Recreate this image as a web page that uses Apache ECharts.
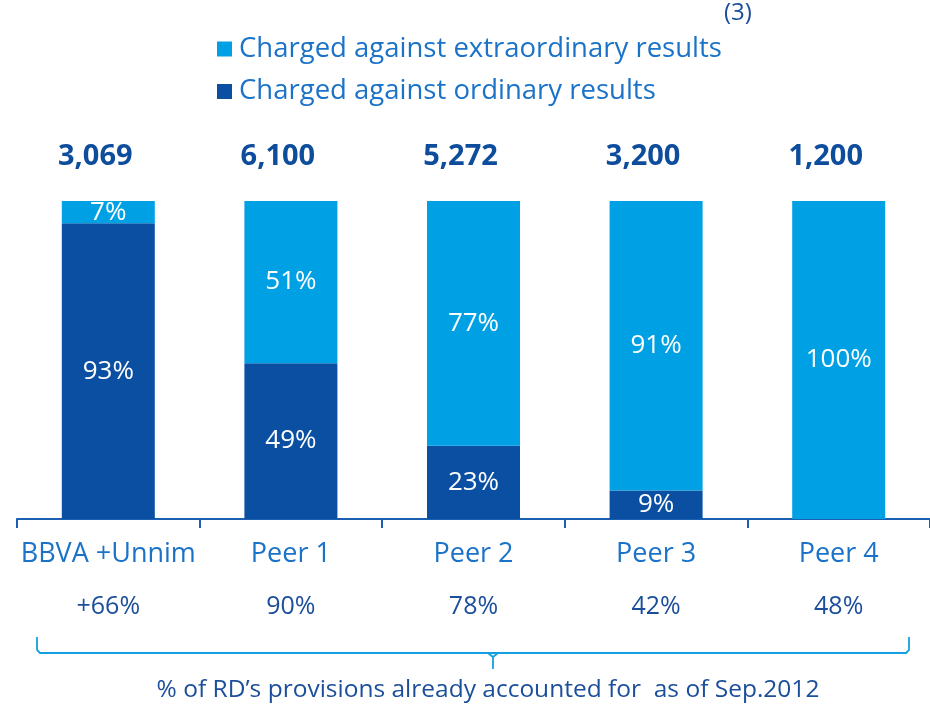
<!DOCTYPE html>
<html>
<head>
<meta charset="utf-8">
<script src="https://cdn.jsdelivr.net/npm/echarts@6/dist/echarts.min.js"></script>
<style>
  html, body { margin: 0; padding: 0; background: #fff; }
  #main { width: 930px; height: 704px; }
</style>
</head>
<body>
<div id="main"></div>
<script>
// data
var categories = ['BBVA +Unnim', 'Peer 1', 'Peer 2', 'Peer 3', 'Peer 4'];
var totals = ['3,069', '6,100', '5,272', '3,200', '1,200'];
var ordinary = [93, 49, 23, 9, 0];
var extraordinary = [7, 51, 77, 91, 100];
var accounted = ['+66%', '90%', '78%', '42%', '48%'];

var LIGHT = '#00a1e4';
var DARK = '#0a4fa2';
var FONT = 'Open Sans';

var myChart = echarts.init(document.getElementById('main'));

var pctLabel = {
    show: true,
    position: 'inside',
    color: '#fff',
    fontSize: 26,
    fontFamily: FONT,
    formatter: function (p) { return p.value > 0 ? p.value + '%' : ''; }
};

myChart.setOption({
    animation: false,
    color: [DARK, LIGHT],
    grid: { left: 17, right: -6, top: 201, bottom: 185 },
    legend: {
        orient: 'vertical',
        left: 212,
        top: 30,
        itemWidth: 15,
        itemHeight: 15,
        itemGap: 14.5,
        icon: 'rect',
        data: ['Charged against extraordinary results', 'Charged against ordinary results'],
        textStyle: { color: '#1a73c8', fontSize: 27.5, fontFamily: FONT, padding: [0, 0, 0, 2] }
    },
    xAxis: [
        {
            type: 'category',
            data: categories,
            axisLine: { lineStyle: { color: '#1a5fb0', width: 2 } },
            axisTick: { show: true, length: 9, lineStyle: { color: '#1a5fb0', width: 2 } },
            axisLabel: { interval: 0, color: '#1a73c8', fontSize: 27, fontFamily: FONT, margin: 22 }
        },
        {
            type: 'category',
            data: accounted,
            position: 'bottom',
            offset: 55,
            axisLine: { show: false },
            axisTick: { show: false },
            axisLabel: { interval: 0, color: '#1b4e9b', fontSize: 25, fontFamily: FONT, margin: 20 }
        },
        {
            type: 'category',
            data: totals,
            position: 'top',
            axisLine: { show: false },
            axisTick: { show: false },
            axisLabel: {
                interval: 0, color: '#0e4c9c', fontSize: 29, fontWeight: 'bold', fontFamily: FONT,
                margin: 30, padding: [0, 26, 0, 0]
            }
        }
    ],
    yAxis: { type: 'value', min: 0, max: 100, show: false },
    series: [
        {
            name: 'Charged against ordinary results',
            type: 'bar',
            stack: 'rd',
            barWidth: 93,
            data: ordinary,
            itemStyle: { color: DARK },
            label: pctLabel
        },
        {
            name: 'Charged against extraordinary results',
            type: 'bar',
            stack: 'rd',
            barWidth: 93,
            data: extraordinary,
            itemStyle: { color: LIGHT },
            label: pctLabel
        }
    ],
    graphic: [
        {
            type: 'text', left: 724, top: 1,
            style: { text: '(3)', fill: '#1b4e9b', fontSize: 24, fontFamily: FONT }
        },
        {
            type: 'polyline',
            shape: { points: [[37, 637], [37, 650], [40, 653], [906, 653], [909, 650], [909, 637]] },
            style: { stroke: '#13a0e0', lineWidth: 1.8, fill: null }
        },
        {
            type: 'polyline',
            shape: { points: [[488, 653], [493, 657], [493, 669]] },
            style: { stroke: '#13a0e0', lineWidth: 1.8, fill: null }
        },
        {
            type: 'polyline',
            shape: { points: [[498, 653], [493, 657]] },
            style: { stroke: '#13a0e0', lineWidth: 1.8, fill: null }
        },
        {
            type: 'text', x: 488, y: 690,
            style: {
                text: '% of RD\u2019s provisions already accounted for  as of Sep.2012',
                fill: '#1b4e9b', fontSize: 24.5, fontFamily: FONT, align: 'center', verticalAlign: 'middle'
            }
        }
    ]
});
</script>
</body>
</html>
